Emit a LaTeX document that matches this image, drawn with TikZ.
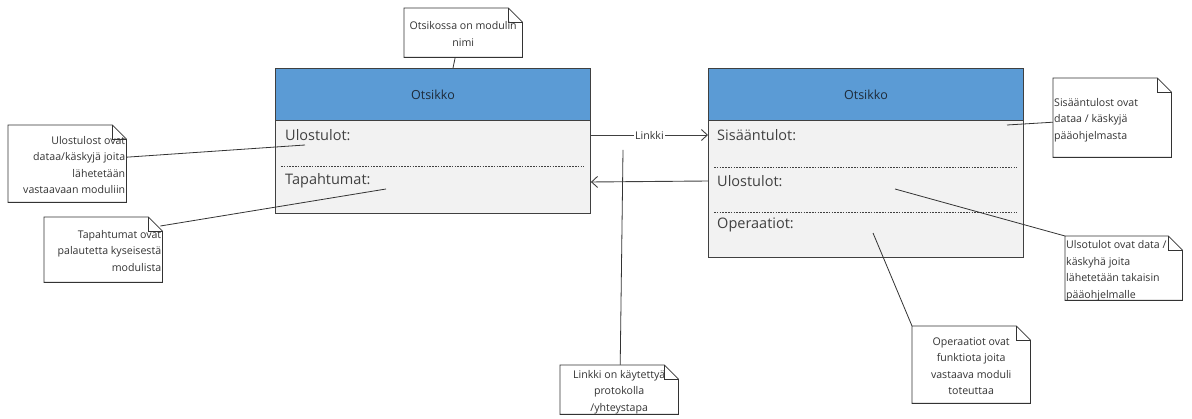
\documentclass[tikz,border=0pt]{standalone}
\usepackage{fontspec}
\setmainfont{Open Sans}
\usetikzlibrary{arrows.meta,calc}
\definecolor{hdrblue}{HTML}{5B9BD5}
\definecolor{bodygray}{HTML}{F2F2F2}
\definecolor{edge}{HTML}{404040}
\definecolor{ink}{HTML}{333333}
\definecolor{hdrink}{HTML}{1E2B3A}
\newcommand{\notefont}{\fontsize{10.6}{16.5}\selectfont}
\newcommand{\rowfont}{\fontsize{14.5}{17}\selectfont}
\newcommand{\hdrfont}{\fontsize{12.5}{16}\selectfont}
% stacked note lines with a given column alignment (l, c or r)
\newcommand{\notelines}[2]{\begin{tabular}{@{}#1@{}}#2\end{tabular}}
\tikzset{
  hdr/.style={draw=edge, fill=hdrblue, line width=0.9pt, anchor=north west,
    text=hdrink, font=\hdrfont, inner sep=0pt},
  bodybox/.style={draw=edge, fill=bodygray, line width=0.9pt, anchor=north west,
    inner sep=0pt},
  row/.style={anchor=west, inner sep=0pt, text=edge, font=\rowfont},
  sep/.style={dash pattern=on 1.6pt off 1.2pt, draw=edge, line width=0.6pt},
  notebox/.style={anchor=north west, inner sep=0pt},
  notetext/.style={inner sep=0pt, text=ink, font=\notefont, yshift=-2pt},
  fold/.style={draw=ink, line width=0.8pt, fill=white},
  leader/.style={draw=ink, line width=0.8pt},
  flow/.style={draw=edge, line width=0.9pt, -{Straight Barb[length=6pt,width=11pt]}},
}
\begin{document}
\begin{tikzpicture}[x=1pt,y=-1pt]
\useasboundingbox (0,0) rectangle (1192,419);

% ---- left module ----
\node[hdr, minimum width=315, minimum height=52] (lHead) at (275,68) {Otsikko};
\node[bodybox, minimum width=315, minimum height=93] (lBody) at (275,120) {};
\draw[sep] (281,166) -- (584,166);
\node[row] (lOut) at (285,135) {Ulostulot:};
\node[row] (lEvt) at (285,181) {Tapahtumat:};

% ---- right module ----
\node[hdr, minimum width=315, minimum height=52] (rHead) at (708,68) {Otsikko};
\node[bodybox, minimum width=315, minimum height=137] (rBody) at (708,120) {};
\draw[sep] (714,167) -- (1017,167);
\draw[sep] (714,212) -- (1017,212);
\node[row] (rIn)  at (717,135) {Sisääntulot:};
\node[row] (rOut) at (717,181) {Ulostulot:};
\node[row] (rOps) at (717,225) {Operaatiot:};

% ---- links between the modules ----
\draw[flow] (lOut -| lBody.east) -- (rIn -| rBody.west)
  node[midway, fill=white, inner sep=1pt, text=ink, font=\notefont] (lnk) {Linkki};
\draw[flow] (rOut -| rBody.west) -- ([yshift=-1pt]lEvt -| lBody.east);

% ---- note frames ----
\node[notebox, minimum width=118, minimum height=49] (nTop) at (404,8) {};
\node[notebox, minimum width=118, minimum height=77] (nL1)  at (8,125) {};
\node[notebox, minimum width=118, minimum height=65] (nL2)  at (44,217) {};
\node[notebox, minimum width=118, minimum height=79] (nR1)  at (1053,78) {};
\node[notebox, minimum width=117, minimum height=64] (nR2)  at (1065,236) {};
\node[notebox, minimum width=118, minimum height=77] (nOps) at (912,326) {};
\node[notebox, minimum width=118, minimum height=49] (nLk)  at (560,365) {};

% ---- note leaders ----
\coordinate (pTop) at (453,68);
\coordinate (pL1)  at (305,145);
\coordinate (pL2)  at (386,189);
\coordinate (pR1)  at (1007,125);
\coordinate (pR2)  at (895,189);
\coordinate (pOps) at (873,233);
\coordinate (pLk)  at (623,150);
\draw[leader] ([xshift=-8pt]nTop.south) -- (pTop);
\draw[leader] ([yshift=6.5pt]nL1.east) -- (pL1);
\draw[leader] ([xshift=-2pt,yshift=-9pt]nL2.north east) -- (pL2);
\draw[leader] ([yshift=-4.5pt]nR1.west) -- (pR1);
\draw[leader] (nR2.north west) -- (pR2);
\draw[leader] (nOps.north west) -- (pOps);
\draw[leader] ([xshift=1pt]nLk.north) -- (pLk);

% folded-corner outline of every note
\foreach \n in {nTop,nL1,nL2,nR1,nR2,nOps,nLk} {
  \draw[fold] (\n.north west) -- ([xshift=-14pt]\n.north east)
    -- ([yshift=-14pt]\n.north east) -- (\n.south east) -- (\n.south west) -- cycle;
  \draw[fold, fill=none] ([xshift=-14pt]\n.north east) |- ([yshift=-14pt]\n.north east);
}

% ---- note texts ----
\node[notetext] at (nTop.center) {\notelines{c}{Otsikossa on modulin\\nimi}};
\node[notetext, anchor=east] at ([xshift=-1pt]nL1.east)
  {\notelines{r}{Ulostulost ovat\\dataa/käskyjä joita\\lähetetään\\vastaavaan moduliin}};
\node[notetext, anchor=east] at ([xshift=-1pt]nL2.east)
  {\notelines{r}{Tapahtumat ovat\\palautetta kyseisestä\\modulista}};
\node[notetext, anchor=west] at ([xshift=1pt]nR1.west)
  {\notelines{l}{Sisääntulost ovat\\dataa / käskyjä\\pääohjelmasta}};
\node[notetext, anchor=west] at ([xshift=1pt]nR2.west)
  {\notelines{l}{Ulsotulot ovat data /\\käskyhä joita\\lähetetään takaisin\\pääohjelmalle}};
\node[notetext] at (nOps.center)
  {\notelines{c}{Operaatiot ovat\\funktiota joita\\vastaava moduli\\toteuttaa}};
\node[notetext] at (nLk.center)
  {\notelines{c}{Linkki on käytettyä\\protokolla\\/yhteystapa}};
\end{tikzpicture}
\end{document}
